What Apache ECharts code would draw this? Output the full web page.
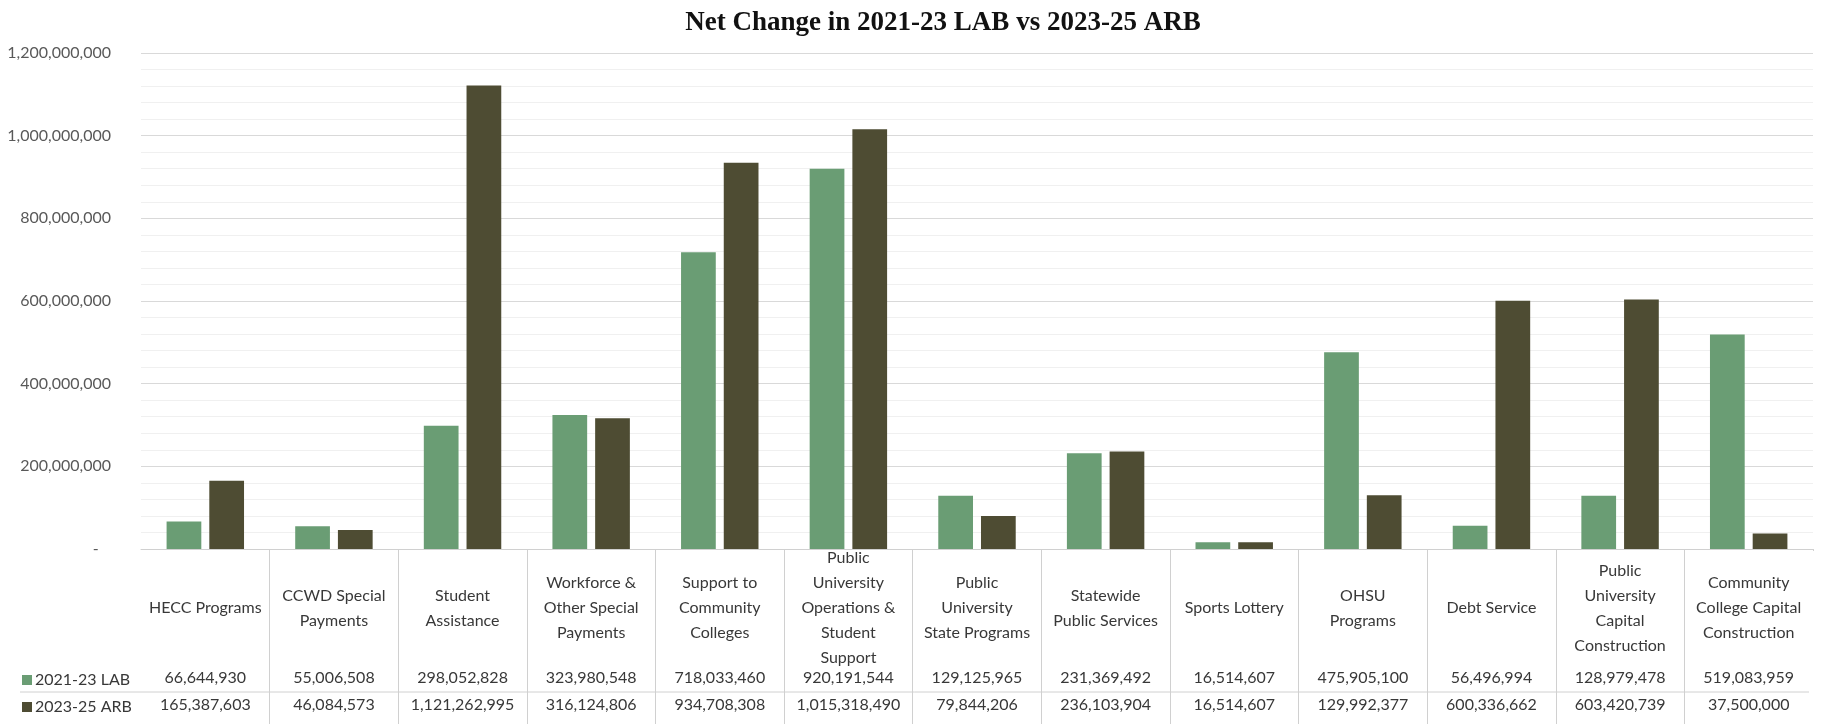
<!DOCTYPE html>
<html>
<head>
<meta charset="utf-8">
<script src="https://cdn.jsdelivr.net/npm/echarts@6/dist/echarts.min.js"></script>
<style>
  html, body { margin: 0; padding: 0; background: #ffffff; }
  #chart { width: 1823px; height: 724px; }
</style>
</head>
<body>
<div id="chart"></div>
<script>
// Budget categories (line breaks follow the table's column wrapping)
const categories = [
  'HECC Programs',
  'CCWD Special\nPayments',
  'Student\nAssistance',
  'Workforce &\nOther Special\nPayments',
  'Support to\nCommunity\nColleges',
  'Public\nUniversity\nOperations &\nStudent\nSupport',
  'Public\nUniversity\nState Programs',
  'Statewide\nPublic Services',
  'Sports Lottery',
  'OHSU\nPrograms',
  'Debt Service',
  'Public\nUniversity\nCapital\nConstruction',
  'Community\nCollege Capital\nConstruction'
];

const seriesNames = ['2021-23 LAB', '2023-25 ARB'];

// 2021-23 Legislatively Approved Budget
const lab2123 = [66644930, 55006508, 298052828, 323980548, 718033460, 920191544,
  129125965, 231369492, 16514607, 475905100, 56496994, 128979478, 519083959];

// 2023-25 Agency Request Budget
const arb2325 = [165387603, 46084573, 1121262995, 316124806, 934708308, 1015318490,
  79844206, 236103904, 16514607, 129992377, 600336662, 603420739, 37500000];

const yMin = 0, yMax = 1200000000, yStep = 200000000;

const colors = ['#6a9d74', '#4e4c33'];
const textColor = '#383838';
const tableFont = 'Lato';

const fmt = v => v.toLocaleString('en-US');

const chart = echarts.init(document.getElementById('chart'));

// One table row of values, drawn as an extra category axis under the plot
const rowAxis = (values, margin) => ({
  type: 'category',
  data: categories,
  position: 'bottom',
  axisLine: { show: false },
  axisTick: { show: false },
  axisLabel: {
    interval: 0,
    margin: margin,
    verticalAlign: 'middle',
    color: textColor,
    fontFamily: tableFont,
    fontSize: 16,
    formatter: (v, i) => fmt(values[i])
  }
});

chart.setOption({
  animation: false,
  title: {
    text: 'Net Change in 2021-23 LAB vs 2023-25 ARB',
    left: 938,
    textAlign: 'center',
    top: 5,
    textStyle: {
      fontFamily: 'Liberation Serif',
      fontWeight: 'bold',
      fontSize: 27,
      color: '#111111'
    }
  },
  legend: {
    data: seriesNames,
    orient: 'vertical',
    left: 22,
    top: 672,
    padding: 0,
    itemWidth: 10,
    itemHeight: 10,
    itemGap: 11,
    icon: 'rect',
    selectedMode: false,
    textStyle: { color: textColor, fontFamily: tableFont, fontSize: 16, padding: [0, 0, 0, -2] }
  },
  grid: { left: 141, right: 10, top: 53, bottom: 175, containLabel: false },
  xAxis: [
    {
      type: 'category',
      data: categories,
      axisLine: { lineStyle: { color: '#d0d0d0' } },
      axisTick: {
        show: true,
        length: 175,
        interval: (i) => i > 0,
        lineStyle: { color: '#d0d0d0' }
      },
      axisLabel: {
        interval: 0,
        margin: 59,
        verticalAlign: 'middle',
        lineHeight: 25,
        color: textColor,
        fontFamily: tableFont,
        fontSize: 16
      }
    },
    rowAxis(lab2123, 129),
    rowAxis(arb2325, 156)
  ],
  yAxis: {
    type: 'value',
    min: yMin,
    max: yMax,
    interval: yStep,
    axisLine: { show: false },
    axisTick: { show: false },
    axisLabel: {
      margin: 30,
      color: '#595959',
      fontFamily: tableFont,
      fontSize: 16,
      formatter: v => (v === 0 ? '-   ' : fmt(v))
    },
    splitLine: { lineStyle: { color: '#d9d9d9', width: 1 } },
    minorTick: { show: false, splitNumber: 5 },
    minorSplitLine: { show: true, lineStyle: { color: '#f0f0f0', width: 1 } }
  },
  series: [
    {
      name: seriesNames[0],
      type: 'bar',
      data: lab2123,
      itemStyle: { color: colors[0] },
      barWidth: '27%',
      barGap: '23%'
    },
    {
      name: seriesNames[1],
      type: 'bar',
      data: arb2325,
      itemStyle: { color: colors[1] },
      barWidth: '27%',
      barGap: '23%'
    }
  ],
  graphic: {
    z: 100,
    elements: [
      // rule between the two value rows of the table
      {
        type: 'line',
        shape: { x1: 20, y1: 692, x2: 1809, y2: 692 },
        style: { stroke: '#d0d0d0', lineWidth: 1 },
        silent: true
      },
      // the table is open on its right side: hide the closing tick
      {
        type: 'rect',
        shape: { x: 1809, y: 551, width: 14, height: 173 },
        style: { fill: '#ffffff' },
        z: 100,
        silent: true
      }
    ]
  }
});
</script>
</body>
</html>
